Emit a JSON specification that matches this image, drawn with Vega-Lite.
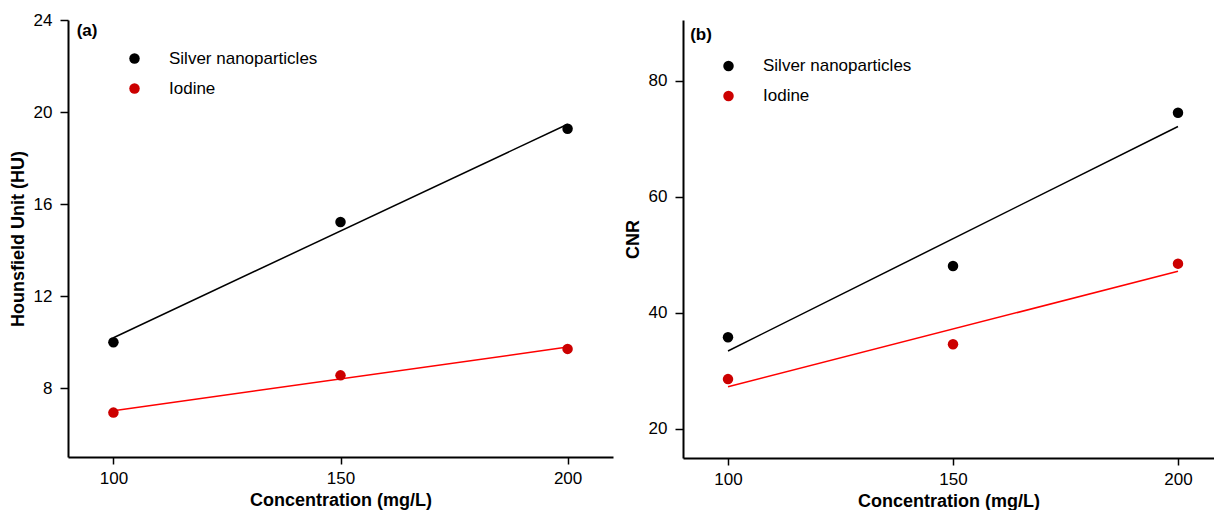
{
  "$schema": "https://vega.github.io/schema/vega-lite/v6.json",
  "padding": {"left": 9, "top": 11, "right": 0, "bottom": 0},
  "background": "white",
  "spacing": 11,
  "config": {
    "view": {"stroke": null},
    "font": "Liberation Sans",
    "axis": {
      "grid": false,
      "domainColor": "black",
      "domainWidth": 2,
      "tickColor": "black",
      "tickWidth": 1.5,
      "tickSize": 8,
      "labelFont": "Liberation Sans",
      "labelFontSize": 17,
      "labelColor": "black",
      "titleFont": "Liberation Sans",
      "titleFontSize": 18,
      "titleFontWeight": "bold",
      "titleColor": "black"
    },
    "axisX": {"labelPadding": 6, "titlePadding": 5, "tickSize": 7},
    "axisY": {"labelPadding": 8, "titlePadding": 6},
    "legend": {
      "orient": "none",
      "labelFont": "Liberation Sans",
      "labelFontSize": 17,
      "labelColor": "black",
      "symbolSize": 110,
      "symbolType": "circle",
      "symbolStrokeWidth": 0,
      "rowPadding": 12,
      "labelOffset": 26,
      "padding": 0
    }
  },
  "datasets": {
    "hu": [
      {"series": "Silver nanoparticles", "concentration": 100, "value": 9.99},
      {"series": "Silver nanoparticles", "concentration": 150, "value": 15.22},
      {"series": "Silver nanoparticles", "concentration": 200, "value": 19.27},
      {"series": "Iodine", "concentration": 100, "value": 6.93},
      {"series": "Iodine", "concentration": 150, "value": 8.55},
      {"series": "Iodine", "concentration": 200, "value": 9.70}
    ],
    "cnr": [
      {"series": "Silver nanoparticles", "concentration": 100, "value": 35.8},
      {"series": "Silver nanoparticles", "concentration": 150, "value": 48.1},
      {"series": "Silver nanoparticles", "concentration": 200, "value": 74.5},
      {"series": "Iodine", "concentration": 100, "value": 28.6},
      {"series": "Iodine", "concentration": 150, "value": 34.6},
      {"series": "Iodine", "concentration": 200, "value": 48.5}
    ]
  },
  "hconcat": [
    {
      "width": 545,
      "height": 437,
      "layer": [
        {
          "data": {"name": "hu"},
          "transform": [{"regression": "value", "on": "concentration", "groupby": ["series"]}],
          "mark": {"type": "line", "strokeWidth": 1.5},
          "encoding": {
            "x": {"field": "concentration", "type": "quantitative", "scale": {"domain": [90, 210], "nice": false, "zero": false}, "axis": {"values": [100, 150, 200], "title": "Concentration (mg/L)"}},
            "y": {"field": "value", "type": "quantitative", "scale": {"domain": [5, 24], "nice": false, "zero": false}, "axis": {"values": [8, 12, 16, 20, 24], "title": "Hounsfield Unit (HU)"}},
            "color": {"field": "series", "type": "nominal", "scale": {"domain": ["Silver nanoparticles", "Iodine"], "range": ["#000000", "#ff0000"]}, "legend": null}
          }
        },
        {
          "data": {"name": "hu"},
          "mark": {"type": "point", "filled": true, "size": 110, "opacity": 1},
          "encoding": {
            "x": {"field": "concentration", "type": "quantitative"},
            "y": {"field": "value", "type": "quantitative"},
            "color": {"field": "series", "type": "nominal", "scale": {"domain": ["Silver nanoparticles", "Iodine"], "range": ["#000000", "#cc0000"]}, "legend": {"title": null, "orient": "none", "legendX": 58, "legendY": 30}}
          }
        },
        {
          "data": {"values": [{}]},
          "mark": {"type": "text", "text": "(a)", "fontWeight": "bold", "fontSize": 17, "align": "left", "baseline": "middle", "color": "black"},
          "encoding": {
            "x": {"datum": 91.9, "type": "quantitative"},
            "y": {"datum": 23.54, "type": "quantitative"}
          }
        }
      ],
      "resolve": {"scale": {"color": "independent"}}
    },
    {
      "width": 531,
      "height": 438,
      "layer": [
        {
          "data": {"name": "cnr"},
          "transform": [{"regression": "value", "on": "concentration", "groupby": ["series"]}],
          "mark": {"type": "line", "strokeWidth": 1.5},
          "encoding": {
            "x": {"field": "concentration", "type": "quantitative", "scale": {"domain": [90, 208], "nice": false, "zero": false}, "axis": {"values": [100, 150, 200], "title": "Concentration (mg/L)"}},
            "y": {"field": "value", "type": "quantitative", "scale": {"domain": [15, 90.5], "nice": false, "zero": false}, "axis": {"values": [20, 40, 60, 80], "title": "CNR"}},
            "color": {"field": "series", "type": "nominal", "scale": {"domain": ["Silver nanoparticles", "Iodine"], "range": ["#000000", "#ff0000"]}, "legend": null}
          }
        },
        {
          "data": {"name": "cnr"},
          "mark": {"type": "point", "filled": true, "size": 110, "opacity": 1},
          "encoding": {
            "x": {"field": "concentration", "type": "quantitative"},
            "y": {"field": "value", "type": "quantitative"},
            "color": {"field": "series", "type": "nominal", "scale": {"domain": ["Silver nanoparticles", "Iodine"], "range": ["#000000", "#cc0000"]}, "legend": {"title": null, "orient": "none", "legendX": 37, "legendY": 37.5, "rowPadding": 12}}
          }
        },
        {
          "data": {"values": [{}]},
          "mark": {"type": "text", "text": "(b)", "fontWeight": "bold", "fontSize": 17, "align": "left", "baseline": "middle", "color": "black"},
          "encoding": {
            "x": {"datum": 91.6, "type": "quantitative"},
            "y": {"datum": 87.83, "type": "quantitative"}
          }
        }
      ],
      "resolve": {"scale": {"color": "independent"}}
    }
  ]
}
